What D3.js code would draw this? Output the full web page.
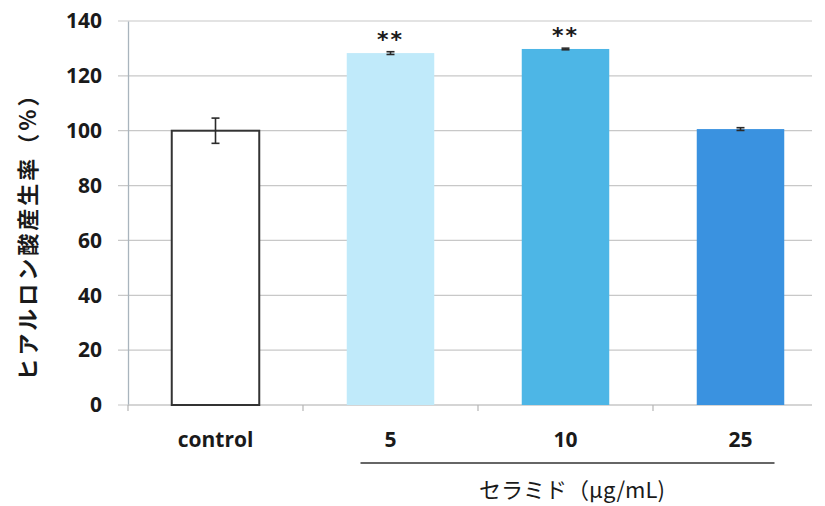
<!DOCTYPE html>
<html>
<head>
<meta charset="utf-8">
<script src="https://cdn.jsdelivr.net/npm/d3@7"></script>
<style>
  html, body { margin: 0; padding: 0; background: #fff; }
  svg { display: block; }
  text { font-family: "Noto Sans CJK JP", "Noto Sans", sans-serif; fill: #1a1a1a; }
</style>
</head>
<body>
<svg id="chart" width="825" height="506"></svg>
<script>
// Hyaluronic acid production rate (%) by ceramide concentration
const categories = ["control", "5", "10", "25"];
const values = [100, 128.3, 129.8, 100.6];
const errors = [4.6, 0.5, 0.3, 0.5];
const significance = ["", "**", "**", ""];
const barColors = ["#ffffff", "#c0eafa", "#4db6e6", "#3a92e0"];
const yTicks = [0, 20, 40, 60, 80, 100, 120, 140];

const svg = d3.select("#chart");
const plot = { left: 128, right: 812, top: 21, bottom: 405 };

const y = d3.scaleLinear().domain([0, 140]).range([plot.bottom, plot.top]);
const x = d3.scaleBand().domain(categories).range([plot.left, plot.left + 700]).paddingInner(0.5).paddingOuter(0.25);

// horizontal gridlines
svg.append("g")
  .selectAll("line")
  .data(yTicks)
  .join("line")
  .attr("x1", plot.left - 10)
  .attr("x2", plot.right)
  .attr("y1", d => y(d))
  .attr("y2", d => y(d))
  .attr("stroke", "#c8c8c8")
  .attr("stroke-width", 1.2);

// y axis
const yAxis = svg.append("g")
  .attr("transform", `translate(${plot.left},0)`)
  .call(d3.axisLeft(y).tickValues(yTicks).tickSize(0).tickPadding(26));
yAxis.select(".domain").attr("stroke", "#a9b4bd").attr("stroke-width", 1.3);
yAxis.selectAll("text")
  .style("font-family", "'Open Sans', 'Noto Sans', sans-serif")
  .style("font-size", "21px")
  .style("font-weight", "700")
  .attr("fill", "#1a1a1a");

// x axis baseline with category separators
const xAxis = svg.append("g")
  .attr("transform", `translate(0,${plot.bottom})`)
  .call(d3.axisBottom(x).tickSize(0).tickPadding(27));
xAxis.select(".domain").attr("stroke", "#c8c8c8").attr("stroke-width", 1.2)
  .attr("d", `M${plot.left},0H${plot.right}`);
xAxis.selectAll("text")
  .style("font-family", "'Open Sans', 'Noto Sans', sans-serif")
  .style("font-size", "21px")
  .style("font-weight", "700")
  .attr("fill", "#1a1a1a");
const step = x.step();
svg.append("g")
  .selectAll("line")
  .data(d3.range(0, 4))
  .join("line")
  .attr("x1", i => plot.left + i * step)
  .attr("x2", i => plot.left + i * step)
  .attr("y1", plot.bottom)
  .attr("y2", plot.bottom + 6)
  .attr("stroke", "#b5b5b5")
  .attr("stroke-width", 1.2);

// bars
svg.append("g")
  .selectAll("rect")
  .data(categories)
  .join("rect")
  .attr("x", d => x(d))
  .attr("width", x.bandwidth())
  .attr("y", (d, i) => y(values[i]))
  .attr("height", (d, i) => y(0) - y(values[i]))
  .attr("fill", (d, i) => barColors[i])
  .attr("stroke", (d, i) => i === 0 ? "#333" : "none")
  .attr("stroke-width", 2);

// error bars
const eb = svg.append("g").attr("stroke", "#2a2a2a").attr("stroke-width", 1.6);
categories.forEach((c, i) => {
  const cx = x(c) + x.bandwidth() / 2;
  const hi = y(values[i] + errors[i]);
  const lo = y(values[i] - errors[i]);
  eb.append("line").attr("x1", cx).attr("x2", cx).attr("y1", hi).attr("y2", lo);
  eb.append("line").attr("x1", cx - 4).attr("x2", cx + 4).attr("y1", hi).attr("y2", hi);
  eb.append("line").attr("x1", cx - 4).attr("x2", cx + 4).attr("y1", lo).attr("y2", lo);
});

// significance marks
svg.append("g")
  .selectAll("text")
  .data(categories)
  .join("text")
  .attr("x", d => x(d) + x.bandwidth() / 2)
  .attr("y", (d, i) => y(values[i] + errors[i]) - 5)
  .attr("text-anchor", "middle")
  .style("font-family", "'DejaVu Sans', sans-serif")
  .style("font-size", "22px")
  .style("font-weight", "700")
  .style("letter-spacing", "2px")
  .attr("fill", "#333")
  .text((d, i) => significance[i]);

// y axis title
svg.append("text")
  .attr("transform", `translate(36,${231}) rotate(-90)`)
  .attr("text-anchor", "middle")
  .style("font-size", "22px")
  .style("font-weight", "700")
  .style("letter-spacing", "3px")
  .text("ヒアルロン酸産生率（%）");

// bracket line under concentration groups
svg.append("line")
  .attr("x1", x("5") + x.bandwidth() / 2 - 30)
  .attr("x2", x("25") + x.bandwidth() / 2 + 34)
  .attr("y1", 463)
  .attr("y2", 463)
  .attr("stroke", "#333")
  .attr("stroke-width", 1.5);

// x axis title
svg.append("text")
  .attr("x", 572)
  .attr("y", 498)
  .attr("text-anchor", "middle")
  .style("font-size", "22px")
  .text("セラミド（μg/mL)");
</script>
</body>
</html>
